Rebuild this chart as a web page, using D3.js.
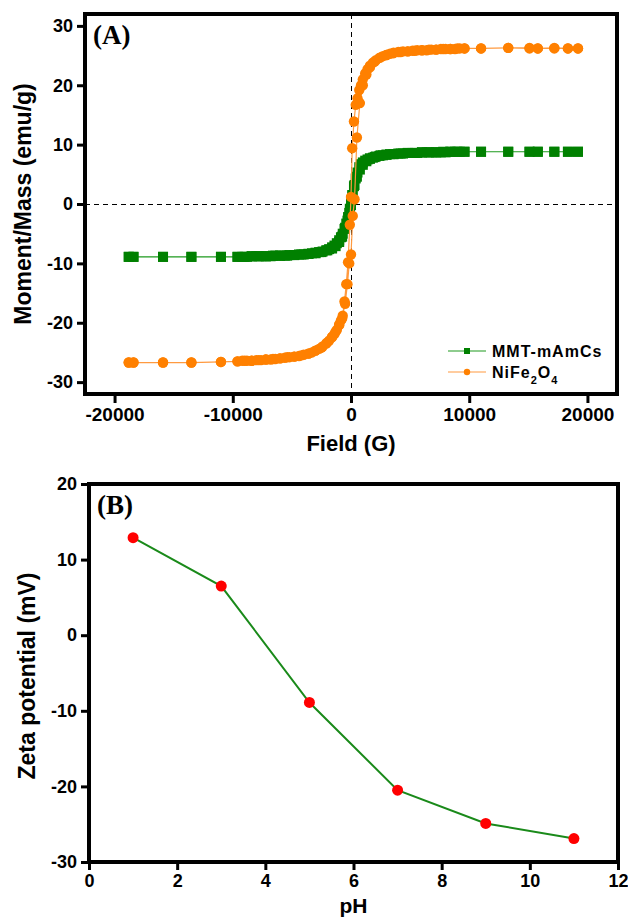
<!DOCTYPE html>
<html>
<head>
<meta charset="utf-8">
<script src="https://cdn.jsdelivr.net/npm/d3@7"></script>
<style>
  body { margin: 0; background: #fff; }
  .tick text { font-family: "Liberation Sans", Arial, sans-serif; font-weight: bold; fill: #000; }
  .axis-title { font-family: "Liberation Sans", Arial, sans-serif; font-weight: bold; fill: #000; }
  .panel-tag { font-family: "Liberation Serif", "Times New Roman", serif; font-weight: bold; fill: #000; }
</style>
</head>
<body>
<div id="chart"></div>
<script>
// panel A: hysteresis loop, branch going down from +field
var fieldDown = [19200, 18350, 17200, 15800, 15100, 13300, 11000, 9600,
  9200, 8800, 8400, 8000, 7600, 7200, 6800, 6400,
  6000, 5600, 5200, 4800, 4400, 4000, 3600, 3300,
  3000, 2700, 2400, 2100, 1850, 1600, 1400, 1200,
  1000, 850, 700, 550, 400, 250, 100, 0,
  -100, -250, -400, -550, -700, -850, -1000, -1200,
  -1400, -1600, -1850, -2100, -2400, -2700, -3000, -3300,
  -3600, -4000, -4400, -4800, -5200, -5600, -6000, -6400,
  -6800, -7200, -7600, -8000, -8400, -8800, -9200, -9600,
  -11000, -13500, -15900, -18400, -18800];

var mmtDown = [8.8, 8.8, 8.8, 8.8, 8.8, 8.8, 8.8, 8.8,
  8.8, 8.8, 8.8, 8.7, 8.7, 8.7, 8.7, 8.7,
  8.7, 8.6, 8.6, 8.6, 8.5, 8.5, 8.4, 8.4,
  8.3, 8.2, 8.1, 8.0, 7.8, 7.7, 7.5, 7.3,
  7.0, 6.7, 6.2, 5.3, 4.3, 3.0, 1.5, 0.6,
  -0.8, -2.2, -3.3, -4.2, -5.0, -5.6, -6.1, -6.6,
  -7.0, -7.3, -7.6, -7.8, -8.0, -8.1, -8.2, -8.3,
  -8.4, -8.5, -8.5, -8.6, -8.6, -8.7, -8.7, -8.7,
  -8.8, -8.8, -8.8, -8.8, -8.8, -8.9, -8.9, -8.9,
  -8.9, -8.9, -8.9, -8.9, -8.9];

var nifeDown = [26.2, 26.2, 26.3, 26.2, 26.3, 26.3, 26.2, 26.2,
  26.2, 26.1, 26.1, 26.1, 26.1, 26.0, 26.0, 25.9,
  25.9, 25.9, 25.8, 25.7, 25.7, 25.6, 25.5, 25.3,
  25.1, 24.9, 24.6, 24.2, 23.8, 23.3, 22.7, 22.0,
  21.0, 20.0, 19.2, 17.8, 16.7, 13.9, 9.4, 1.2,
  -3.5, -9.8, -13.5, -16.4, -18.8, -19.6, -20.4, -21.2,
  -21.9, -22.4, -23.0, -23.5, -24.0, -24.4, -24.7, -25.0,
  -25.2, -25.4, -25.6, -25.7, -25.8, -25.9, -26.0, -26.1,
  -26.2, -26.2, -26.3, -26.3, -26.4, -26.4, -26.4, -26.5,
  -26.6, -26.7, -26.7, -26.7, -26.7];

// branch coming back up from -field
var fieldUp = [-18800, -18400, -15900, -13500, -11000, -9600, -9000, -8400,
  -7800, -7200, -6600, -6000, -5400, -4800, -4200, -3600,
  -3000, -2500, -2000, -1600, -1300, -1000, -750, -500,
  -300, -150, 0, 150, 300, 500, 750, 1000,
  1300, 1600, 2000, 2500, 3000, 3600, 4200, 4800,
  5400, 6000, 6600, 7200, 7800, 8400, 9000, 9600,
  11000, 13300, 15100, 15800, 17200, 18350, 19200];

var mmtUp = [-8.9, -8.9, -8.9, -8.9, -8.9, -8.9, -8.9, -8.8,
  -8.8, -8.8, -8.7, -8.7, -8.7, -8.6, -8.5, -8.4,
  -8.3, -8.1, -7.8, -7.5, -7.1, -6.4, -5.5, -4.0,
  -2.8, -1.5, -0.2, 1.5, 3.2, 4.6, 5.8, 6.6,
  7.2, 7.6, 7.9, 8.2, 8.3, 8.4, 8.5, 8.6,
  8.6, 8.7, 8.7, 8.7, 8.8, 8.8, 8.8, 8.8,
  8.8, 8.8, 8.8, 8.8, 8.8, 8.8, 8.8];

var nifeUp = [-26.7, -26.7, -26.7, -26.7, -26.6, -26.5, -26.4, -26.4,
  -26.3, -26.2, -26.1, -26.0, -25.8, -25.7, -25.5, -25.2,
  -24.7, -24.2, -23.3, -22.4, -21.5, -20.3, -19.3, -16.8,
  -13.5, -10.0, -8.5, -2.0, 0.8, 11.2, 17.0, 20.0,
  21.8, 23.0, 24.0, 24.7, 25.1, 25.4, 25.6, 25.7,
  25.8, 25.9, 26.0, 26.0, 26.1, 26.1, 26.2, 26.2,
  26.2, 26.3, 26.2, 26.2, 26.2, 26.2, 26.2];

var fieldTicks = [-20000, -10000, 0, 10000, 20000];
var momentTicks = [-30, -20, -10, 0, 10, 20, 30];

// panel B: zeta potential
var phValues = [1, 3, 5, 7, 9, 11];
var zetaValues = [12.9, 6.5, -8.9, -20.5, -24.9, -26.9];
var phTicks = [0, 2, 4, 6, 8, 10, 12];
var zetaTicks = [-30, -20, -10, 0, 10, 20];

var greenColor = "#008000";
var orangeColor = "#ff8000";

// plain labels: hyphen minus, no thousands comma
var plainFormat = d => String(d);

var svg = d3.select("#chart")
  .append("svg")
  .attr("width", 628)
  .attr("height", 919);

svg.append("rect")
  .attr("width", 628)
  .attr("height", 919)
  .attr("fill", "#fff");

// ---------- panel A ----------
var boxA = { left: 85, right: 617, top: 14, bottom: 394 };

var xA = d3.scaleLinear().domain([-22500, 22500]).range([boxA.left, boxA.right]);
var yA = d3.scaleLinear().domain([-32, 32]).range([boxA.bottom, boxA.top]);

// zero lines
var zeroX = Math.round(xA(0)) + 0.5;
var zeroY = Math.round(yA(0)) + 0.5;

svg.append("line")
  .attr("x1", zeroX).attr("x2", zeroX)
  .attr("y1", boxA.top).attr("y2", boxA.bottom)
  .attr("stroke", "#000").attr("stroke-width", 1)
  .attr("stroke-dasharray", "5,4");

svg.append("line")
  .attr("x1", boxA.left).attr("x2", boxA.right)
  .attr("y1", zeroY).attr("y2", zeroY)
  .attr("stroke", "#000").attr("stroke-width", 1)
  .attr("stroke-dasharray", "5,4");

function loopPoints(fields, values) {
  return fields.map((f, i) => ({ x: f, y: values[i] }));
}

var mmtLoop = loopPoints(fieldDown, mmtDown).concat(loopPoints(fieldUp, mmtUp));
var nifeLoop = loopPoints(fieldDown, nifeDown).concat(loopPoints(fieldUp, nifeUp));

var lineA = d3.line()
  .x(d => xA(d.x))
  .y(d => yA(d.y));

// MMT-mAmCs: green squares
svg.append("path")
  .datum(mmtLoop)
  .attr("d", lineA)
  .attr("fill", "none")
  .attr("stroke", "#1e9a1e")
  .attr("stroke-width", 1.2);

svg.append("g")
  .selectAll("rect")
  .data(mmtLoop)
  .enter()
  .append("rect")
  .attr("x", d => xA(d.x) - 5)
  .attr("y", d => yA(d.y) - 5)
  .attr("width", 10)
  .attr("height", 10)
  .attr("fill", greenColor);

// NiFe2O4: orange circles
svg.append("path")
  .datum(nifeLoop)
  .attr("d", lineA)
  .attr("fill", "none")
  .attr("stroke", "#ff9a40")
  .attr("stroke-width", 1.2);

svg.append("g")
  .selectAll("circle")
  .data(nifeLoop)
  .enter()
  .append("circle")
  .attr("cx", d => xA(d.x))
  .attr("cy", d => yA(d.y))
  .attr("r", 5.2)
  .attr("fill", orangeColor);

// axes A
var xAxisA = svg.append("g")
  .attr("transform", `translate(0, ${boxA.bottom})`)
  .call(d3.axisBottom(xA).tickValues(fieldTicks).tickFormat(plainFormat).tickSize(9).tickPadding(5));
xAxisA.select(".domain").remove();
xAxisA.selectAll(".tick line").attr("stroke", "#000").attr("stroke-width", 3);
xAxisA.selectAll(".tick text").attr("font-size", 19);

var yAxisA = svg.append("g")
  .attr("transform", `translate(${boxA.left}, 0)`)
  .call(d3.axisLeft(yA).tickValues(momentTicks).tickFormat(plainFormat).tickSize(8).tickPadding(4));
yAxisA.select(".domain").remove();
yAxisA.selectAll(".tick line").attr("stroke", "#000").attr("stroke-width", 3);
yAxisA.selectAll(".tick text").attr("font-size", 18);

svg.append("rect")
  .attr("x", boxA.left)
  .attr("y", boxA.top)
  .attr("width", boxA.right - boxA.left)
  .attr("height", boxA.bottom - boxA.top)
  .attr("fill", "none")
  .attr("stroke", "#000")
  .attr("stroke-width", 4);

svg.append("text")
  .attr("class", "axis-title")
  .attr("x", xA(0))
  .attr("y", 451)
  .attr("text-anchor", "middle")
  .attr("font-size", 22)
  .text("Field (G)");

svg.append("text")
  .attr("class", "axis-title")
  .attr("transform", `translate(31, ${yA(0)}) rotate(-90)`)
  .attr("text-anchor", "middle")
  .attr("font-size", 23)
  .text("Moment/Mass (emu/g)");

svg.append("text")
  .attr("class", "panel-tag")
  .attr("x", 93)
  .attr("y", 44)
  .attr("font-size", 27)
  .text("(A)");

// legend A
var legend = svg.append("g").attr("class", "legend");

legend.append("line")
  .attr("x1", 448).attr("x2", 486)
  .attr("y1", 351).attr("y2", 351)
  .attr("stroke", "#1e9a1e").attr("stroke-width", 1.2);
legend.append("rect")
  .attr("x", 464).attr("y", 348)
  .attr("width", 6).attr("height", 6)
  .attr("fill", greenColor);
legend.append("text")
  .attr("class", "axis-title")
  .attr("x", 492).attr("y", 357)
  .attr("font-size", 16)
  .attr("letter-spacing", "1px")
  .text("MMT-mAmCs");

legend.append("line")
  .attr("x1", 448).attr("x2", 486)
  .attr("y1", 372).attr("y2", 372)
  .attr("stroke", "#ff9a40").attr("stroke-width", 1.2);
legend.append("circle")
  .attr("cx", 467).attr("cy", 372)
  .attr("r", 3.2)
  .attr("fill", orangeColor);

var nifeLabel = legend.append("text")
  .attr("class", "axis-title")
  .attr("x", 492).attr("y", 378)
  .attr("font-size", 16)
  .attr("letter-spacing", "1px");
nifeLabel.append("tspan").text("NiFe");
nifeLabel.append("tspan").attr("dy", 6).attr("font-size", 11).text("2");
nifeLabel.append("tspan").attr("dy", -6).text("O");
nifeLabel.append("tspan").attr("dy", 6).attr("font-size", 11).text("4");

// ---------- panel B ----------
var boxB = { left: 89, right: 618, top: 484, bottom: 862 };

var xB = d3.scaleLinear().domain([0, 12]).range([boxB.left, boxB.right]);
var yB = d3.scaleLinear().domain([-30, 20]).range([boxB.bottom, boxB.top]);

var xAxisB = svg.append("g")
  .attr("transform", `translate(0, ${boxB.bottom})`)
  .call(d3.axisBottom(xB).tickValues(phTicks).tickFormat(plainFormat).tickSize(8).tickPadding(4));
xAxisB.select(".domain").remove();
xAxisB.selectAll(".tick line").attr("stroke", "#000").attr("stroke-width", 3);
xAxisB.selectAll(".tick text").attr("font-size", 18);

var yAxisB = svg.append("g")
  .attr("transform", `translate(${boxB.left}, 0)`)
  .call(d3.axisLeft(yB).tickValues(zetaTicks).tickFormat(plainFormat).tickSize(8).tickPadding(4));
yAxisB.select(".domain").remove();
yAxisB.selectAll(".tick line").attr("stroke", "#000").attr("stroke-width", 3);
yAxisB.selectAll(".tick text").attr("font-size", 18);

var zetaData = phValues.map((p, i) => ({ x: p, y: zetaValues[i] }));

svg.append("path")
  .datum(zetaData)
  .attr("d", d3.line().x(d => xB(d.x)).y(d => yB(d.y)))
  .attr("fill", "none")
  .attr("stroke", "#1a8a1a")
  .attr("stroke-width", 2);

svg.append("g")
  .selectAll("circle")
  .data(zetaData)
  .enter()
  .append("circle")
  .attr("cx", d => xB(d.x))
  .attr("cy", d => yB(d.y))
  .attr("r", 5.5)
  .attr("fill", "#ff0000");

svg.append("rect")
  .attr("x", boxB.left)
  .attr("y", boxB.top)
  .attr("width", boxB.right - boxB.left)
  .attr("height", boxB.bottom - boxB.top)
  .attr("fill", "none")
  .attr("stroke", "#000")
  .attr("stroke-width", 4);

svg.append("text")
  .attr("class", "axis-title")
  .attr("x", (boxB.left + boxB.right) / 2)
  .attr("y", 913)
  .attr("text-anchor", "middle")
  .attr("font-size", 21)
  .text("pH");

svg.append("text")
  .attr("class", "axis-title")
  .attr("transform", `translate(35, 676) rotate(-90)`)
  .attr("text-anchor", "middle")
  .attr("font-size", 23)
  .text("Zeta potential (mV)");

svg.append("text")
  .attr("class", "panel-tag")
  .attr("x", 97)
  .attr("y", 514)
  .attr("font-size", 27)
  .text("(B)");
</script>
</body>
</html>
